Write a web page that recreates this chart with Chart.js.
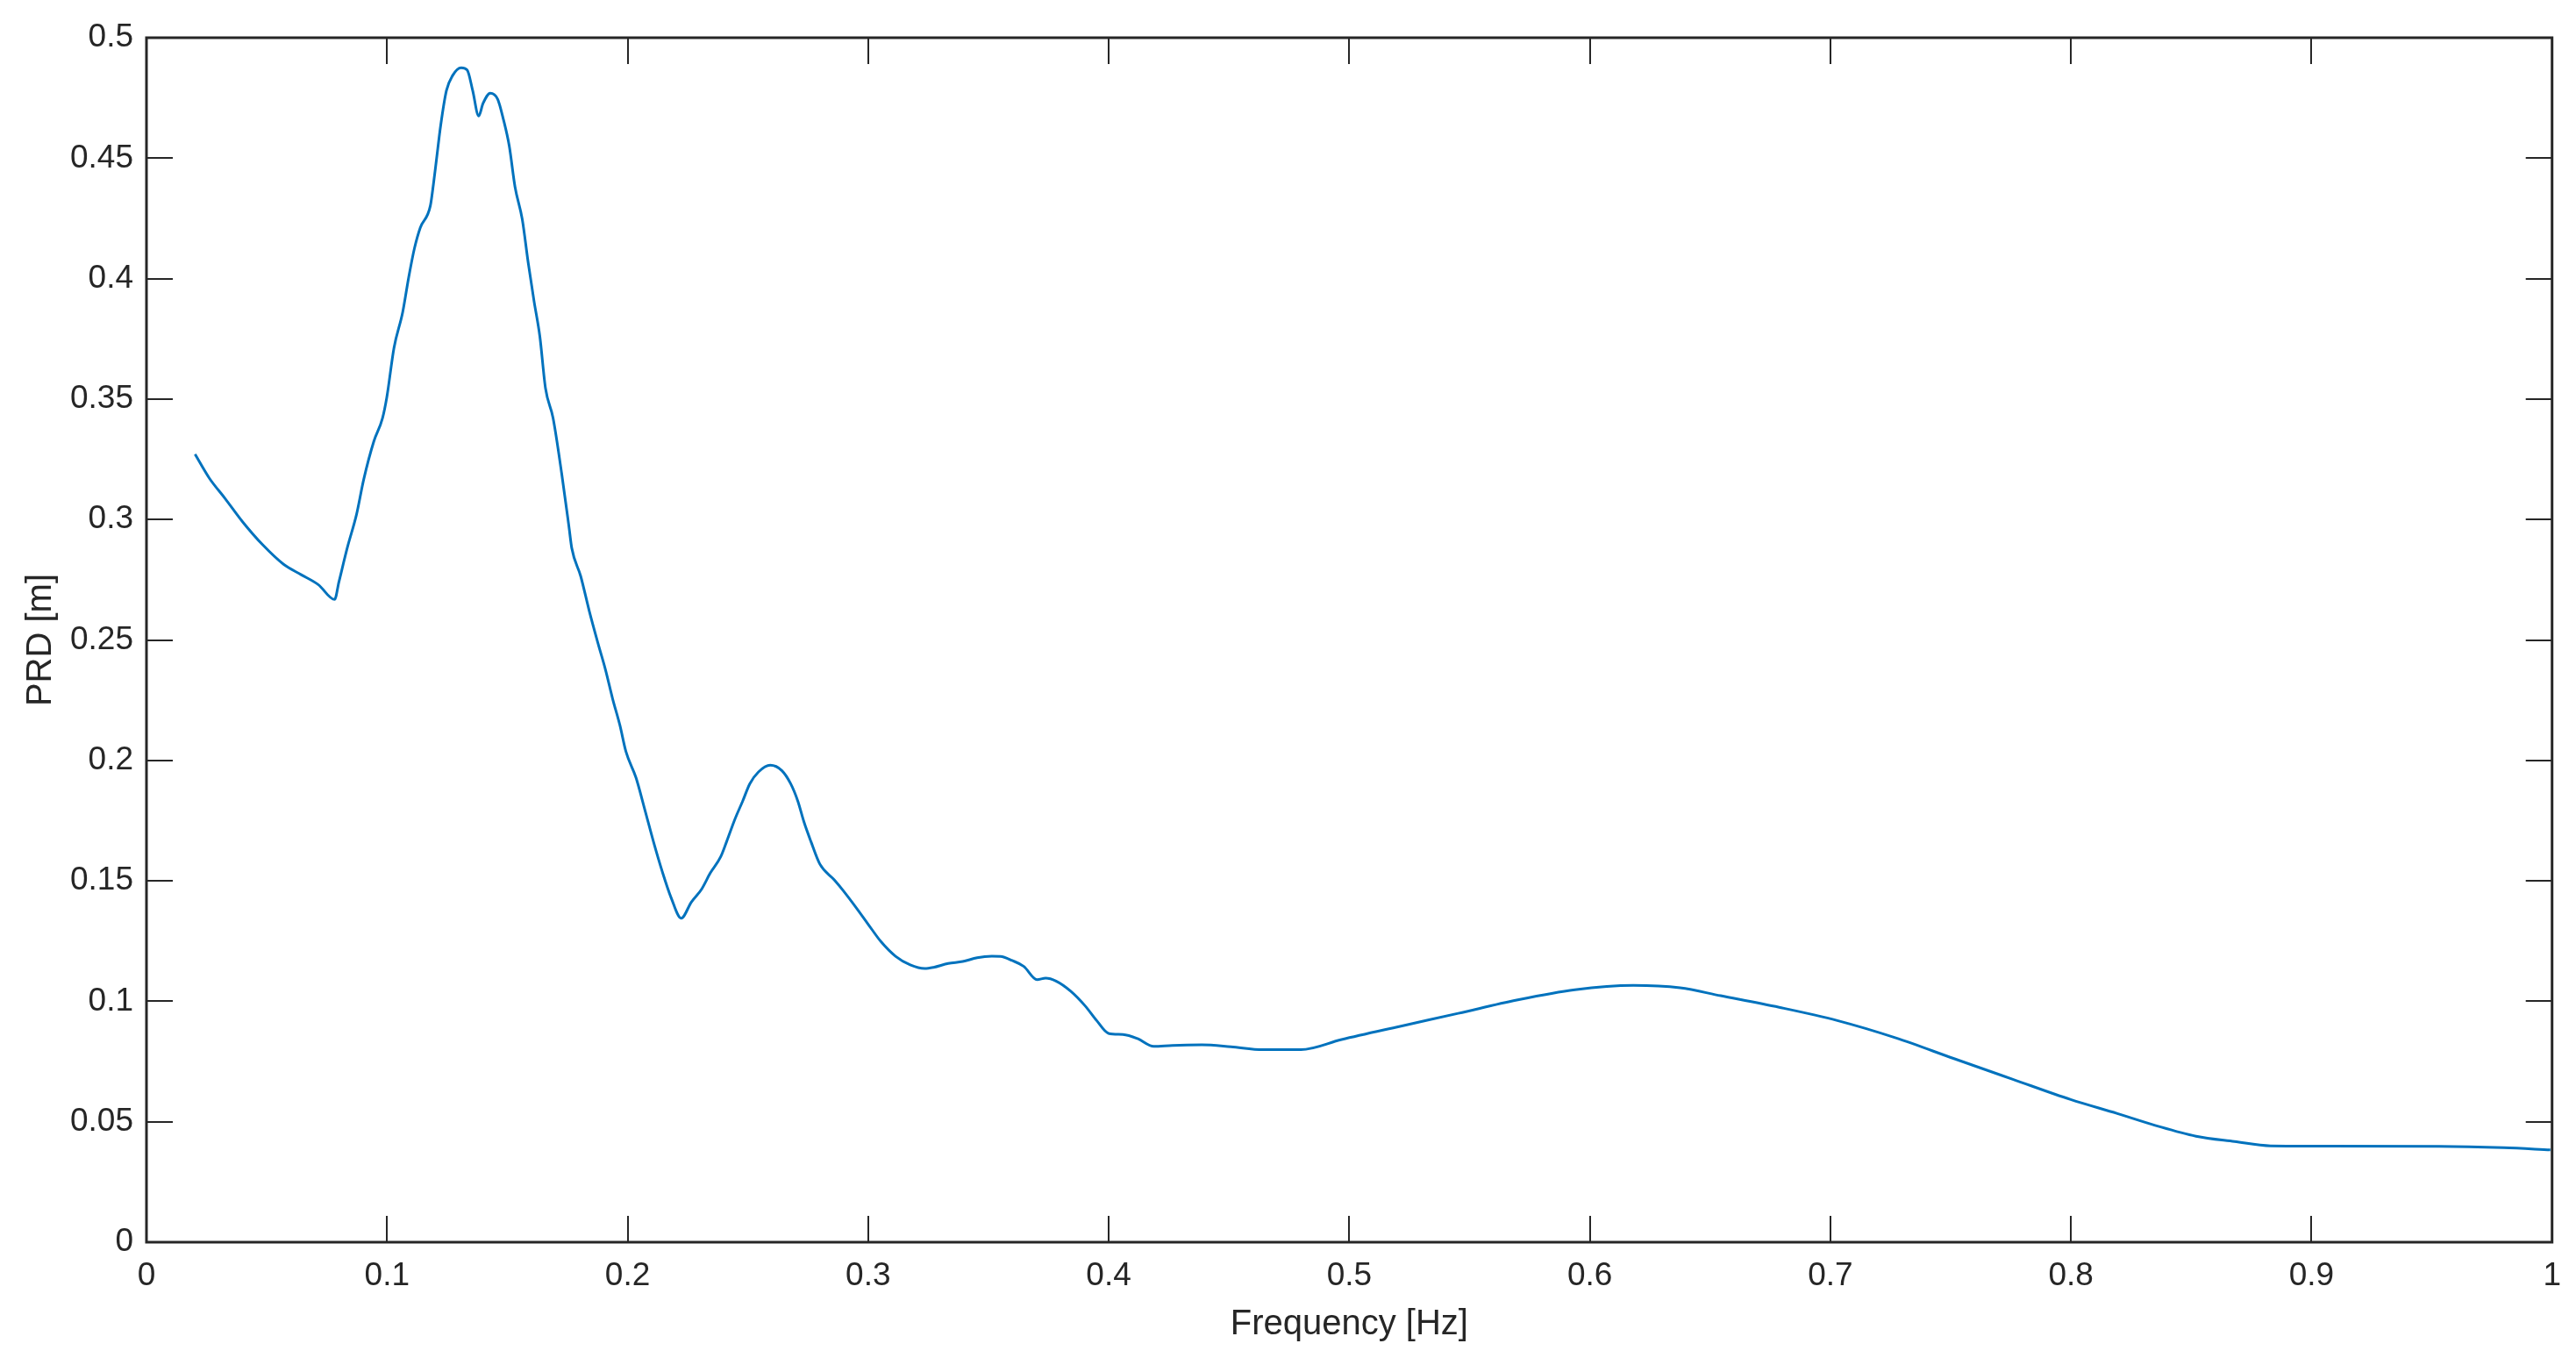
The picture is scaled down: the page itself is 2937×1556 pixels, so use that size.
<!DOCTYPE html>
<html>
<head>
<meta charset="utf-8">
<script src="https://cdn.jsdelivr.net/npm/chart.js@4/dist/chart.umd.min.js"></script>
<style>
  html, body { margin: 0; padding: 0; background: #ffffff; }
  #wrap { width: 2937px; height: 1556px; }
</style>
</head>
<body>
<div id="wrap"><canvas id="c" width="2937" height="1556"></canvas></div>
<script>
// ---- Data ----
const freq = [
  0.0202, 0.0261, 0.0327, 0.0400, 0.0485, 0.0570, 0.0643, 0.0715, 0.0782, 0.0800,
  0.0836, 0.0873, 0.0903, 0.0945, 0.0981, 0.0999, 0.1029, 0.1065, 0.1090, 0.1114,
  0.1138, 0.1180, 0.1193, 0.1205, 0.1223, 0.1247, 0.1272, 0.1308, 0.1333, 0.1356,
  0.1381, 0.1399, 0.1429, 0.1460, 0.1484, 0.1508, 0.1532, 0.1562, 0.1587, 0.1611,
  0.1635, 0.1659, 0.1690, 0.1726, 0.1756, 0.1768, 0.1805, 0.1841, 0.1877, 0.1908,
  0.1938, 0.1968, 0.1993, 0.2035, 0.2072, 0.2108, 0.2144, 0.2181, 0.2223, 0.2265,
  0.2308, 0.2344, 0.2387, 0.2411, 0.2447, 0.2478, 0.2508, 0.2544, 0.2593, 0.2641,
  0.2678, 0.2708, 0.2733, 0.2763, 0.2799, 0.2860, 0.2896, 0.2956, 0.3000, 0.3053,
  0.3114, 0.3175, 0.3235, 0.3272, 0.3333, 0.3393, 0.3453, 0.3514, 0.3550, 0.3599,
  0.3647, 0.3702, 0.3738, 0.3781, 0.3842, 0.3902, 0.3950, 0.3999, 0.4059, 0.4120,
  0.4187, 0.4265, 0.4387, 0.4508, 0.4641, 0.4799, 0.4968, 0.5211, 0.5453, 0.5696,
  0.5938, 0.6181, 0.6375, 0.6544, 0.6787, 0.7029, 0.7272, 0.7514, 0.7756, 0.7999,
  0.8193, 0.8350, 0.8520, 0.8680, 0.8830, 0.9000, 0.9530, 0.9800, 0.9993
];
const prd = [
  0.3271, 0.3172, 0.3087, 0.2990, 0.2893, 0.2814, 0.2771, 0.2729, 0.2668, 0.2741,
  0.2887, 0.3020, 0.3166, 0.3324, 0.3420, 0.3507, 0.3713, 0.3860, 0.4005, 0.4126,
  0.4211, 0.4302, 0.4393, 0.4490, 0.4636, 0.4781, 0.4842, 0.4875, 0.4866, 0.4781,
  0.4675, 0.4727, 0.4770, 0.4745, 0.4660, 0.4551, 0.4381, 0.4247, 0.4065, 0.3907,
  0.3762, 0.3543, 0.3422, 0.3191, 0.2972, 0.2881, 0.2765, 0.2619, 0.2486, 0.2377,
  0.2255, 0.2146, 0.2037, 0.1928, 0.1794, 0.1661, 0.1539, 0.1430, 0.1345, 0.1412,
  0.1466, 0.1533, 0.1600, 0.1661, 0.1758, 0.1830, 0.1903, 0.1952, 0.1980, 0.1958,
  0.1903, 0.1830, 0.1745, 0.1661, 0.1570, 0.1503, 0.1460, 0.1381, 0.1320, 0.1248,
  0.1187, 0.1151, 0.1136, 0.1141, 0.1157, 0.1165, 0.1181, 0.1187, 0.1186, 0.1169,
  0.1145, 0.1090, 0.1096, 0.1084, 0.1042, 0.0981, 0.0920, 0.0867, 0.0862, 0.0845,
  0.0813, 0.0817, 0.0819, 0.0811, 0.0799, 0.0799, 0.0841, 0.0896, 0.0950, 0.1005,
  0.1048, 0.1066, 0.1056, 0.1023, 0.0975, 0.0920, 0.0848, 0.0762, 0.0677, 0.0592,
  0.0534, 0.0485, 0.0440, 0.0418, 0.0400, 0.0399, 0.0398, 0.0392, 0.0383
];
const xTickValues = [0, 0.1, 0.2, 0.3, 0.4, 0.5, 0.6, 0.7, 0.8, 0.9, 1];
const xTickLabels = ['0', '0.1', '0.2', '0.3', '0.4', '0.5', '0.6', '0.7', '0.8', '0.9', '1'];
const yTickValues = [0, 0.05, 0.1, 0.15, 0.2, 0.25, 0.3, 0.35, 0.4, 0.45, 0.5];
const yTickLabels = ['0', '0.05', '0.1', '0.15', '0.2', '0.25', '0.3', '0.35', '0.4', '0.45', '0.5'];
const xTitle = 'Frequency [Hz]';
const yTitle = 'PRD [m]';

// ---- Chart ----
const AXIS_COLOR = '#262626';
const FAMILY = '"Liberation Sans", Arial, Helvetica, sans-serif';
const TICK_FONT = { family: FAMILY, size: 37 };
const TITLE_FONT = { family: FAMILY, size: 40 };

function labelFor(values, labels, v) {
  for (let i = 0; i < values.length; i++) {
    if (Math.abs(values[i] - v) < 1e-9) return labels[i];
  }
  return '';
}

const boxAndTicks = {
  id: 'boxAndTicks',
  afterDatasetsDraw(chart) {
    const { ctx, chartArea: a, scales: { x, y } } = chart;
    ctx.save();
    ctx.strokeStyle = AXIS_COLOR;
    ctx.lineWidth = 2;
    const len = 30;
    ctx.beginPath();
    xTickValues.forEach(v => {
      const px = Math.round(x.getPixelForValue(v));
      ctx.moveTo(px, a.bottom); ctx.lineTo(px, a.bottom - len);
      ctx.moveTo(px, a.top); ctx.lineTo(px, a.top + len);
    });
    yTickValues.forEach(v => {
      const py = Math.round(y.getPixelForValue(v));
      ctx.moveTo(a.left, py); ctx.lineTo(a.left + len, py);
      ctx.moveTo(a.right, py); ctx.lineTo(a.right - len, py);
    });
    ctx.stroke();
    ctx.lineWidth = 3;
    ctx.strokeRect(a.left, a.top, a.right - a.left, a.bottom - a.top);
    ctx.restore();
  }
};

new Chart(document.getElementById('c'), {
  type: 'line',
  data: {
    datasets: [{
      data: freq.map((f, i) => ({ x: f, y: prd[i] })),
      borderColor: '#0072BD',
      borderWidth: 3,
      pointRadius: 0,
      fill: false,
      cubicInterpolationMode: 'monotone'
    }]
  },
  options: {
    responsive: false,
    animation: false,
    devicePixelRatio: 1,
    layout: { padding: { top: 43, right: 20, left: 0, bottom: 0 } },
    plugins: { legend: { display: false }, tooltip: { enabled: false } },
    scales: {
      x: {
        type: 'linear',
        min: 0, max: 1,
        grid: { display: false, drawTicks: false },
        border: { display: false },
        afterBuildTicks(scale) { scale.ticks = xTickValues.map(v => ({ value: v })); },
        afterFit(scale) { scale.height = 140; },
        ticks: {
          color: AXIS_COLOR, font: TICK_FONT, padding: 17, maxRotation: 0, autoSkip: false,
          callback: v => labelFor(xTickValues, xTickLabels, v)
        },
        title: { display: true, text: xTitle, color: AXIS_COLOR, font: TITLE_FONT, padding: { top: 0, bottom: 22 } }
      },
      y: {
        type: 'linear',
        min: 0, max: 0.5,
        grid: { display: false, drawTicks: false },
        border: { display: false },
        afterBuildTicks(scale) { scale.ticks = yTickValues.map(v => ({ value: v })); },
        afterFit(scale) { scale.width = 167; },
        ticks: {
          color: AXIS_COLOR, font: TICK_FONT, padding: 15, autoSkip: false,
          callback: v => labelFor(yTickValues, yTickLabels, v)
        },
        title: { display: true, text: yTitle, color: AXIS_COLOR, font: TITLE_FONT, padding: { top: 23, bottom: 0 } }
      }
    }
  },
  plugins: [boxAndTicks]
});
</script>
</body>
</html>
